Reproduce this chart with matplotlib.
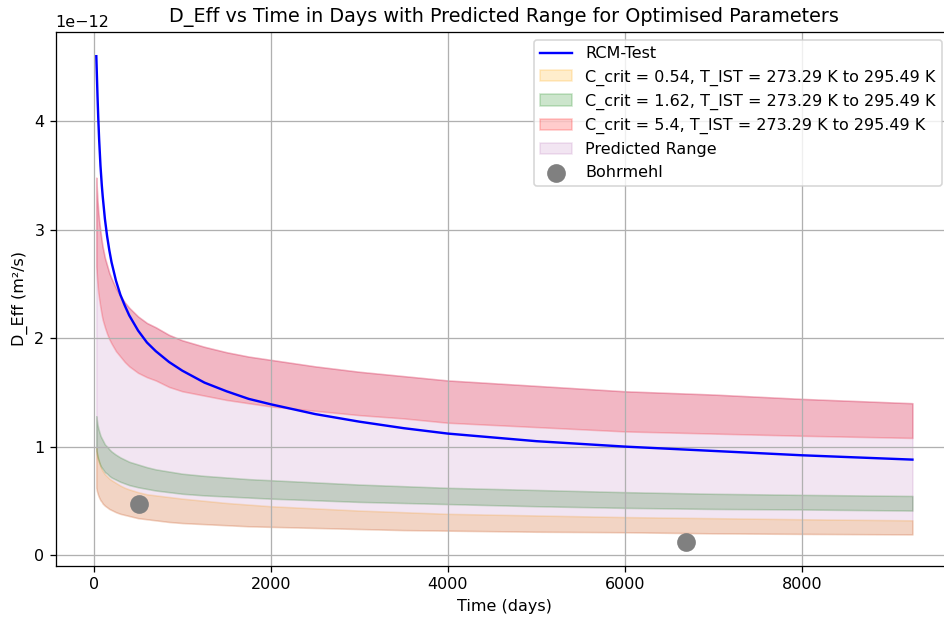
import numpy as np
import matplotlib
matplotlib.use("Agg")
import matplotlib.pyplot as plt

# Tiempo en dias
dias = [28, 35, 42, 50, 60, 75, 90, 100, 125, 150, 175, 200, 250, 300, 350, 400,
        500, 600, 700, 850, 1000, 1250, 1500, 1750, 2000, 2500, 3000, 3500, 4000,
        5000, 6000, 7000, 8000, 9250]

# Valores en unidades de 1e-12 m2/s
rcm_test = [4.60, 4.41, 4.22, 4.03, 3.83, 3.59, 3.41, 3.31, 3.10, 2.94, 2.81, 2.70,
            2.53, 2.40, 2.30, 2.21, 2.07, 1.96, 1.88, 1.78, 1.70, 1.59, 1.51, 1.44,
            1.39, 1.30, 1.23, 1.17, 1.12, 1.05, 1.00, 0.96, 0.92, 0.88]

c054_sup = [0.99, 0.95, 0.92, 0.89, 0.86, 0.82, 0.79, 0.775, 0.745, 0.725, 0.705, 0.69,
            0.665, 0.64, 0.62, 0.605, 0.58, 0.56, 0.55, 0.535, 0.52, 0.50, 0.48, 0.465,
            0.45, 0.43, 0.41, 0.395, 0.38, 0.365, 0.35, 0.34, 0.33, 0.32]
c054_inf = [0.62, 0.59, 0.57, 0.55, 0.53, 0.505, 0.49, 0.475, 0.455, 0.44, 0.425, 0.415,
            0.395, 0.38, 0.37, 0.36, 0.34, 0.33, 0.32, 0.305, 0.295, 0.285, 0.275, 0.265,
            0.26, 0.25, 0.24, 0.23, 0.225, 0.215, 0.21, 0.20, 0.195, 0.19]

c162_sup = [1.28, 1.24, 1.20, 1.17, 1.14, 1.10, 1.075, 1.06, 1.02, 1.00, 0.975, 0.955,
            0.925, 0.90, 0.88, 0.86, 0.835, 0.81, 0.79, 0.77, 0.75, 0.73, 0.715, 0.70,
            0.69, 0.67, 0.65, 0.635, 0.62, 0.60, 0.58, 0.565, 0.555, 0.545]
c162_inf = [0.96, 0.93, 0.90, 0.88, 0.855, 0.825, 0.805, 0.795, 0.765, 0.75, 0.73, 0.715,
            0.695, 0.675, 0.66, 0.645, 0.625, 0.61, 0.595, 0.58, 0.565, 0.55, 0.54, 0.53,
            0.52, 0.505, 0.49, 0.48, 0.47, 0.45, 0.435, 0.425, 0.42, 0.41]

c54_sup = [3.48, 3.36, 3.26, 3.17, 3.08, 2.98, 2.89, 2.84, 2.74, 2.67, 2.60, 2.55,
           2.46, 2.39, 2.33, 2.28, 2.20, 2.14, 2.10, 2.03, 1.98, 1.92, 1.87, 1.83,
           1.80, 1.74, 1.69, 1.65, 1.61, 1.56, 1.51, 1.48, 1.44, 1.40]
c54_inf = [2.66, 2.57, 2.49, 2.42, 2.36, 2.28, 2.21, 2.17, 2.10, 2.04, 1.99, 1.95,
           1.88, 1.83, 1.78, 1.74, 1.68, 1.64, 1.61, 1.55, 1.51, 1.47, 1.43, 1.40,
           1.37, 1.33, 1.29, 1.26, 1.22, 1.18, 1.14, 1.12, 1.10, 1.08]

bohrmehl_dias = [508, 6690]
bohrmehl_deff = [0.47, 0.123]

escala = 1e-12
t = np.array(dias)

fig = plt.figure(figsize=(944 / 115, 621 / 115), dpi=115)
ax = fig.add_axes([0.0588, 0.0886, 0.951, 0.86])

ax.plot(t, np.array(rcm_test) * escala, color="blue", label="RCM-Test")
ax.fill_between(t, np.array(c054_inf) * escala, np.array(c054_sup) * escala,
                color="orange", alpha=0.2,
                label="C_crit = 0.54, T_IST = 273.29 K to 295.49 K")
ax.fill_between(t, np.array(c162_inf) * escala, np.array(c162_sup) * escala,
                color="green", alpha=0.2,
                label="C_crit = 1.62, T_IST = 273.29 K to 295.49 K")
ax.fill_between(t, np.array(c54_inf) * escala, np.array(c54_sup) * escala,
                color="red", alpha=0.2,
                label="C_crit = 5.4, T_IST = 273.29 K to 295.49 K")

# Rango predicho: envolvente de todas las bandas
rango_inf = np.minimum.reduce([c054_inf, c162_inf, c54_inf])
rango_sup = np.maximum.reduce([c054_sup, c162_sup, c54_sup])
ax.fill_between(t, rango_inf * escala, rango_sup * escala,
                color="purple", alpha=0.1, label="Predicted Range")

ax.scatter(bohrmehl_dias, np.array(bohrmehl_deff) * escala, color="grey",
           s=115, label="Bohrmehl", zorder=3)

ax.set_title("D_Eff vs Time in Days with Predicted Range for Optimised Parameters")
ax.set_xlabel("Time (days)")
ax.set_ylabel("D_Eff (m²/s)")
ax.legend(loc="upper right", bbox_to_anchor=(942 / 944, 1 - 40 / 621),
          bbox_transform=fig.transFigure, borderaxespad=0)
ax.grid(True)

fig.savefig("out.png", dpi=115)
